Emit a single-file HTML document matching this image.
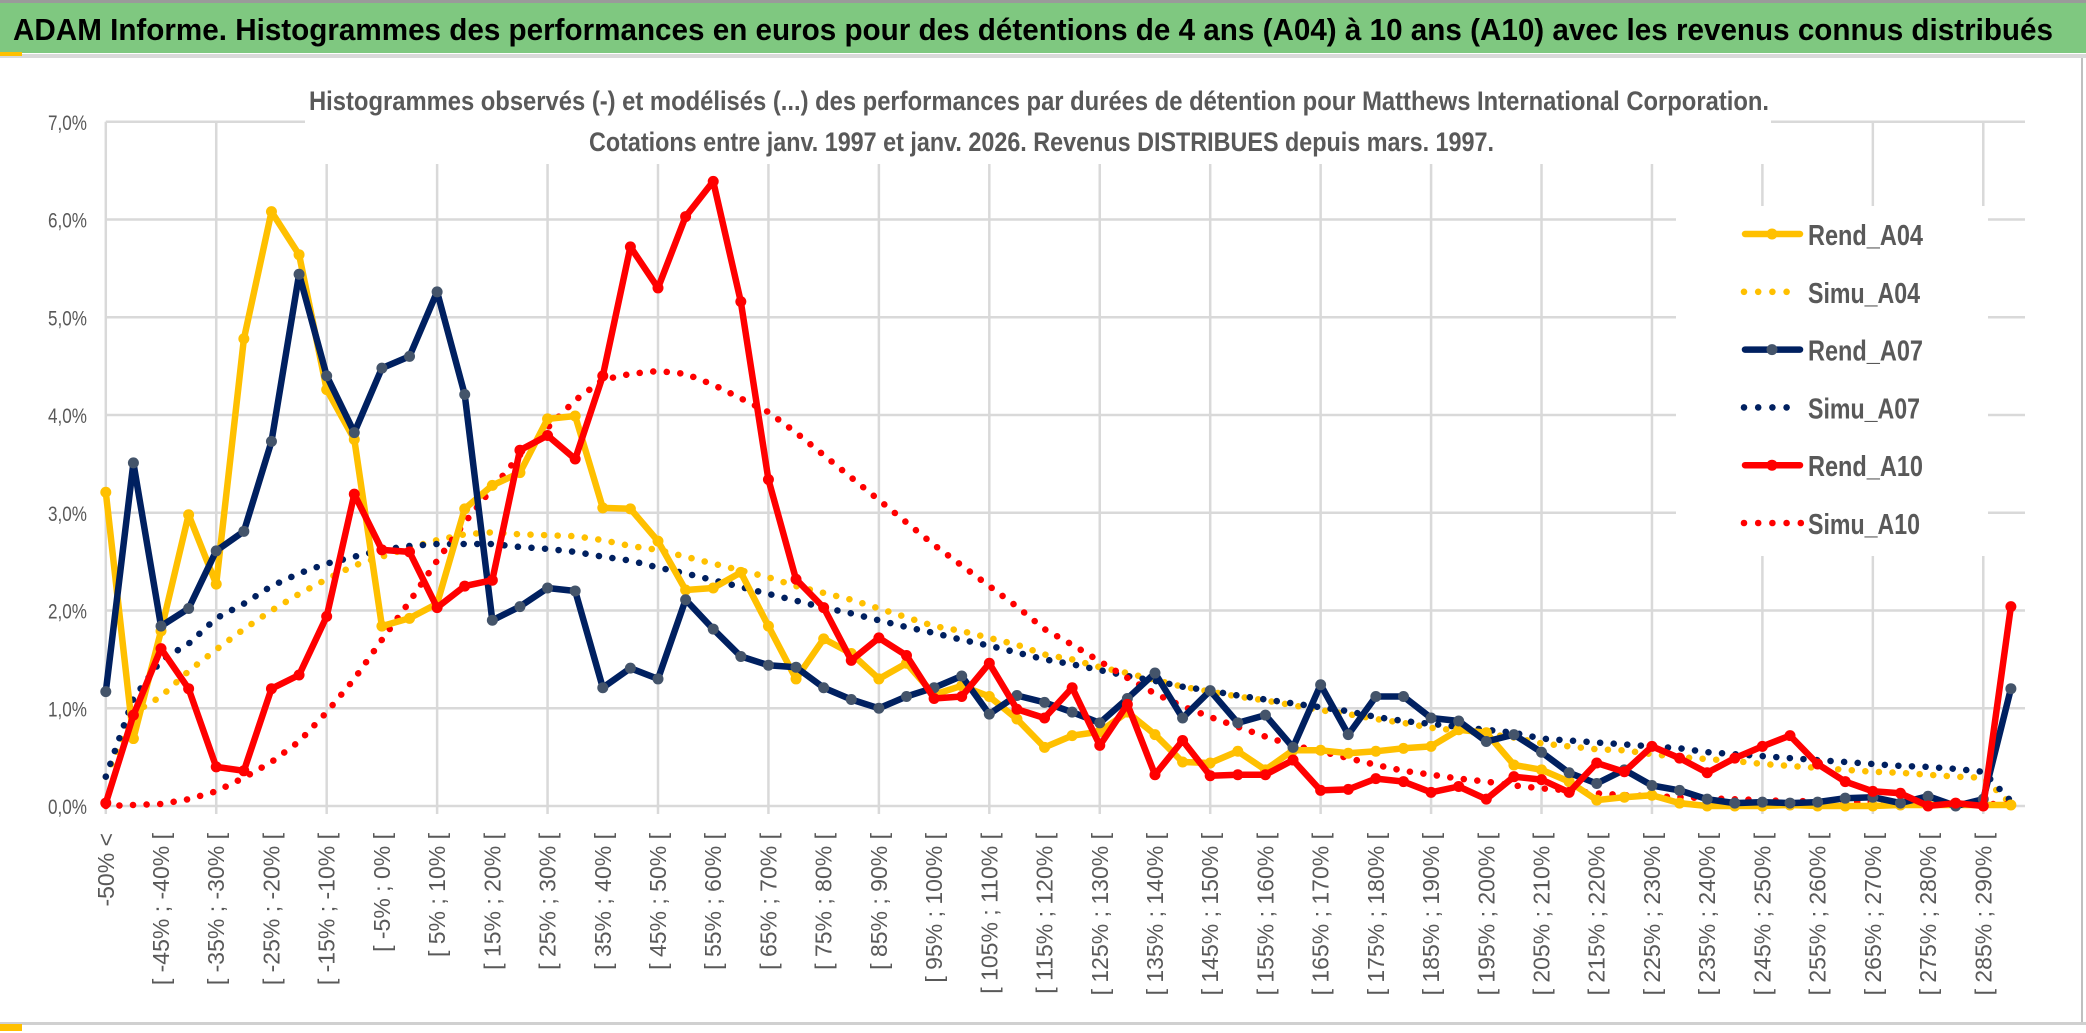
<!DOCTYPE html>
<html><head><meta charset="utf-8"><style>
html,body{margin:0;padding:0;background:#fff;}
svg{display:block;}
</style></head><body>
<svg id="chart" width="2086" height="1033" viewBox="0 0 2086 1033" xmlns="http://www.w3.org/2000/svg">
<rect x="0" y="0" width="2086" height="1033" fill="#fff"/>
<rect x="0" y="0" width="2086" height="3" fill="#9a9a9a"/>
<rect x="0" y="3" width="2086" height="50" fill="#7fc880"/>
<rect x="0" y="54" width="2086" height="4" fill="#d9d9d9"/>
<rect x="0" y="52" width="22" height="4" fill="#ffc000"/>
<text x="13" y="40" textLength="2040" lengthAdjust="spacingAndGlyphs" font-family="Liberation Sans, sans-serif" font-weight="bold" font-size="31" fill="#000">ADAM Informe. Histogrammes des performances en euros pour des détentions de 4 ans (A04) à 10 ans (A10) avec les revenus connus distribués</text>
<rect x="2081" y="58" width="2" height="966" fill="#bfbfbf"/>
<rect x="0" y="1022" width="2086" height="3" fill="#d0d0d0"/>
<rect x="0" y="1024" width="22" height="7" fill="#ffc000"/>
<g id="grid"></g>
<g id="ylabels"></g>
<g id="xlabels"></g>
<g id="series"></g>
<rect x="305" y="72" width="1466" height="92" fill="#fff"/>
<text x="309" y="110" textLength="1460" lengthAdjust="spacingAndGlyphs" font-family="Liberation Sans, sans-serif" font-weight="bold" font-size="27" fill="#595959">Histogrammes observés (-) et modélisés (...) des performances par durées de détention pour Matthews International Corporation.</text>
<text x="589" y="151" textLength="905" lengthAdjust="spacingAndGlyphs" font-family="Liberation Sans, sans-serif" font-weight="bold" font-size="27" fill="#595959">Cotations entre janv. 1997 et janv. 2026. Revenus DISTRIBUES depuis mars. 1997.</text>
<g id="legend"></g>
</svg>
<script>
const categories = ["-50% <"];
for (let i = 1; i < 70; i++) { const a = -50 + 5 * (i - 1); categories.push("[ " + a + "% ; " + (a + 5) + "% ["); }
const yTicks = [0,1,2,3,4,5,6,7];
const yTickLabels = ["0,0%","1,0%","2,0%","3,0%","4,0%","5,0%","6,0%","7,0%"];
const rendA04 = [3.21,0.69,1.79,2.98,2.27,4.78,6.08,5.64,4.26,3.75,1.84,1.92,2.07,3.04,3.28,3.41,3.96,3.99,3.05,3.04,2.71,2.21,2.23,2.39,1.84,1.30,1.71,1.56,1.30,1.46,1.14,1.23,1.12,0.89,0.60,0.72,0.76,0.96,0.73,0.45,0.44,0.56,0.37,0.57,0.57,0.54,0.56,0.59,0.61,0.78,0.75,0.42,0.37,0.25,0.06,0.09,0.11,0.03,0,0,0,0.01,0,0,0,0.01,0.01,0.01,0.01,0.01];
const simuA04 = [0.3,0.95,1.12,1.38,1.60,1.81,2.00,2.17,2.32,2.46,2.55,2.64,2.72,2.78,2.80,2.78,2.77,2.76,2.72,2.66,2.62,2.55,2.48,2.41,2.34,2.25,2.18,2.11,2.02,1.93,1.84,1.79,1.72,1.65,1.55,1.50,1.42,1.36,1.29,1.22,1.17,1.12,1.08,1.03,0.98,0.94,0.89,0.85,0.80,0.77,0.74,0.70,0.64,0.61,0.58,0.57,0.53,0.50,0.48,0.46,0.43,0.41,0.39,0.37,0.35,0.34,0.32,0.30,0.29,0.02];
const rendA07 = [1.17,3.51,1.84,2.02,2.61,2.81,3.73,5.44,4.40,3.82,4.48,4.60,5.26,4.21,1.90,2.04,2.23,2.20,1.21,1.41,1.30,2.11,1.81,1.53,1.44,1.42,1.21,1.09,1.00,1.12,1.21,1.33,0.94,1.13,1.06,0.96,0.85,1.10,1.36,0.90,1.18,0.85,0.93,0.60,1.24,0.73,1.12,1.12,0.90,0.87,0.66,0.73,0.55,0.34,0.23,0.37,0.21,0.16,0.07,0.03,0.04,0.03,0.04,0.08,0.09,0.03,0.10,0.0,0.07,1.20];
const simuA07 = [0.3,1.10,1.49,1.66,1.92,2.07,2.25,2.38,2.48,2.55,2.62,2.66,2.68,2.68,2.68,2.65,2.63,2.60,2.55,2.51,2.44,2.38,2.31,2.24,2.17,2.10,2.03,1.97,1.90,1.83,1.77,1.70,1.64,1.57,1.50,1.45,1.39,1.33,1.28,1.22,1.18,1.13,1.09,1.05,1.01,0.97,0.91,0.87,0.84,0.81,0.78,0.75,0.69,0.67,0.65,0.63,0.61,0.59,0.55,0.53,0.51,0.49,0.47,0.45,0.43,0.41,0.40,0.38,0.35,0.05];
const rendA10 = [0.03,0.93,1.61,1.20,0.40,0.36,1.20,1.34,1.94,3.19,2.62,2.60,2.03,2.25,2.31,3.64,3.79,3.55,4.40,5.72,5.30,6.03,6.39,5.16,3.34,2.32,2.03,1.49,1.72,1.54,1.10,1.12,1.46,0.99,0.90,1.21,0.62,1.04,0.32,0.67,0.31,0.32,0.32,0.47,0.16,0.17,0.28,0.25,0.14,0.20,0.07,0.30,0.27,0.14,0.44,0.35,0.61,0.49,0.34,0.49,0.61,0.72,0.43,0.25,0.15,0.13,0.0,0.03,0.0,2.04];
const simuA10 = [0.0,0.01,0.02,0.07,0.15,0.29,0.45,0.66,0.96,1.30,1.70,2.09,2.51,2.90,3.25,3.59,3.87,4.15,4.36,4.42,4.45,4.42,4.31,4.17,4.03,3.82,3.59,3.36,3.13,2.90,2.67,2.46,2.25,2.04,1.81,1.65,1.48,1.31,1.15,1.02,0.91,0.81,0.71,0.62,0.56,0.49,0.42,0.36,0.32,0.28,0.25,0.21,0.18,0.16,0.13,0.11,0.10,0.09,0.08,0.07,0.06,0.05,0.05,0.04,0.04,0.03,0.03,0.02,0.02,0.02];

const NS = "http://www.w3.org/2000/svg";
const X0 = 105.8, XSTEP = 27.61, Y0 = 806, YUNIT = 97.75, XRIGHT = 2025;
function xs(i){ return X0 + XSTEP * i; }
function ys(v){ return Y0 - YUNIT * v; }
function mk(tag, attrs, parent){ const e = document.createElementNS(NS, tag); for (const k in attrs) e.setAttribute(k, attrs[k]); parent.appendChild(e); return e; }

const grid = document.getElementById('grid');
yTicks.forEach(function(t){
  const l = mk('line', {x1: X0, x2: XRIGHT, y1: ys(t), y2: ys(t), stroke: '#d9d9d9', 'stroke-width': 2.5}, grid);
  
  
});
for (let i = 0; i < categories.length; i += 4) {
  const l = mk('line', {x1: xs(i), x2: xs(i), y1: ys(7), y2: Y0 + 8, stroke: '#d9d9d9', 'stroke-width': 2.5}, grid);
  
  
}
const yl = document.getElementById('ylabels');
yTicks.forEach(function(t, k){
  const tx = mk('text', {x: 48, y: ys(t) + 8, textLength: 39, lengthAdjust: 'spacingAndGlyphs', 'font-family': 'Liberation Sans, sans-serif', 'font-size': 21, fill: '#595959'}, yl);
  tx.textContent = yTickLabels[k];
  
  
});
const xl = document.getElementById('xlabels');
categories.forEach(function(c, i){
  if (i % 2 !== 0) return;
  const x = xs(i) + 8, y = 833;
  const tx = mk('text', {x: x, y: y, transform: 'rotate(-90 ' + x + ' ' + y + ')', 'text-anchor': 'end', 'font-family': 'Liberation Sans, sans-serif', 'font-size': 23, fill: '#595959'}, xl);
  tx.textContent = c;
  
  
});

const seriesG = document.getElementById('series');
function pathFor(vals){ return vals.map(function(v, i){ return (i ? 'L' : 'M') + xs(i).toFixed(1) + ' ' + ys(v).toFixed(1); }).join(' '); }
function dotted(vals, color, name){
  const p = mk('path', {d: pathFor(vals), fill: 'none', stroke: color, 'stroke-width': 6.5, 'stroke-linecap': 'round', 'stroke-dasharray': '0.1 13.5'}, seriesG);
  
  
}
function solid(vals, color, mcolor, name){
  const p = mk('path', {d: pathFor(vals), fill: 'none', stroke: color, 'stroke-width': 6.5, 'stroke-linejoin': 'round'}, seriesG);
  
  
  vals.forEach(function(v, i){
    const c = mk('circle', {cx: xs(i), cy: ys(v), r: 5.5, fill: mcolor}, seriesG);
    
    
  });
}
dotted(simuA04, '#ffc000', 'simu-a04-line');
dotted(simuA07, '#002060', 'simu-a07-line');
dotted(simuA10, '#ff0000', 'simu-a10-line');
solid(rendA04, '#ffc000', '#ffc000', 'rend-a04-line');
solid(rendA07, '#002060', '#44546a', 'rend-a07-line');
solid(rendA10, '#ff0000', '#ff0000', 'rend-a10-line');

const leg = document.getElementById('legend');
const bg = mk('rect', {x: 1676, y: 206, width: 312, height: 350, fill: '#fff'}, leg);


const legendNames = ['Rend_A04','Simu_A04','Rend_A07','Simu_A07','Rend_A10','Simu_A10'];
const legendColors = ['#ffc000','#ffc000','#002060','#002060','#ff0000','#ff0000'];
const legendMarker = ['#ffc000',null,'#44546a',null,'#ff0000',null];
legendNames.forEach(function(n, k){
  const y = 234 + k * 57.8;
  const g = mk('g', {}, leg);
  
  
  if (legendMarker[k]) {
    mk('line', {x1: 1745, x2: 1800, y1: y, y2: y, stroke: legendColors[k], 'stroke-width': 6.5, 'stroke-linecap': 'round'}, g);
    mk('circle', {cx: 1772, cy: y, r: 5.5, fill: legendMarker[k]}, g);
  } else {
    const cnt = k === 5 ? 5 : 4;
    for (let d = 0; d < cnt; d++) mk('circle', {cx: 1744 + d * 14.2, cy: y, r: 3.3, fill: legendColors[k]}, g);
  }
  const t = mk('text', {x: 1808, y: y + 11, textLength: n.indexOf('Rend') === 0 ? 115 : 112, lengthAdjust: 'spacingAndGlyphs', 'font-family': 'Liberation Sans, sans-serif', 'font-weight': 'bold', 'font-size': 29, fill: '#595959'}, g);
  t.textContent = n;
});
</script>
</body></html>
